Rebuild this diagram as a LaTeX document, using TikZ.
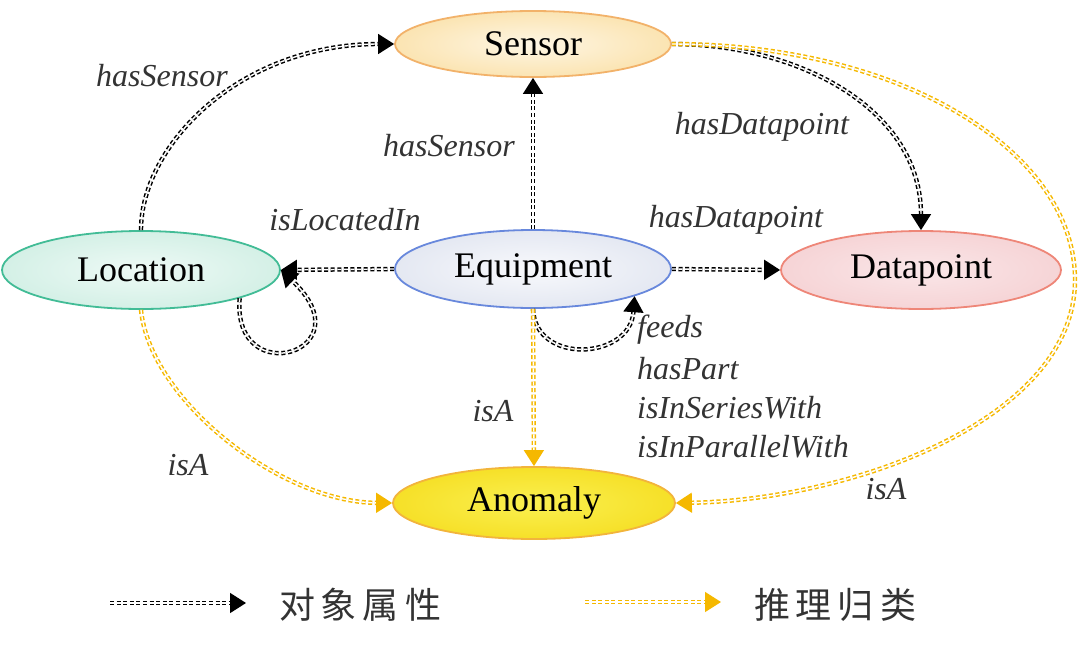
\documentclass[tikz,border=0pt]{standalone}
\usepackage{fontspec}
\setmainfont{Liberation Serif}
\newfontfamily\cjk{Noto Sans CJK SC}
\usetikzlibrary{arrows.meta,shapes.geometric}
\definecolor{yel}{HTML}{F5B800}
\definecolor{lbl}{HTML}{333333}
\begin{document}
\begin{tikzpicture}[x=1pt,y=-1pt,
  ent/.style={ellipse, inner sep=0pt, line width=1.8pt, font=\fontsize{36}{40}\selectfont},
  lab/.style={text=lbl, font=\fontsize{32}{36}\selectfont\itshape, inner sep=0pt},
  objrel/.style={draw=black, line width=1.5pt, double=white, double distance=1.4pt,
     dash pattern=on 4pt off 2.6pt, -{Triangle[length=16pt,width=20pt]}},
  infer/.style={draw=yel, line width=1.5pt, double=white, double distance=1.4pt,
     dash pattern=on 4pt off 2.6pt, -{Triangle[length=16pt,width=20pt,color=yel]}}]
\useasboundingbox (0,0) rectangle (1080,654);
% nodes
\node[ent, minimum width=276pt, minimum height=66pt, draw={rgb,255:red,242;green,178;blue,106},
  inner color={rgb,255:red,254;green,246;blue,228}, outer color={rgb,255:red,251;green,228;blue,178}] (S) at (533,44) {Sensor};
\node[ent, minimum width=278pt, minimum height=78pt, draw={rgb,255:red,66;green,188;blue,150},
  inner color={rgb,255:red,238;green,250;blue,246}, outer color={rgb,255:red,212;green,240;blue,230}] (L) at (141,270) {Location};
\node[ent, minimum width=276pt, minimum height=78pt, draw={rgb,255:red,104;green,136;blue,220},
  inner color={rgb,255:red,248;green,249;blue,252}, outer color={rgb,255:red,228;green,232;blue,242}] (E) at (533,269) {Equipment};
\node[ent, minimum width=280pt, minimum height=78pt, draw={rgb,255:red,238;green,134;blue,120},
  inner color={rgb,255:red,250;green,230;blue,232}, outer color={rgb,255:red,246;green,212;blue,214}] (D) at (921,270) {Datapoint};
\node[ent, minimum width=282pt, minimum height=72pt, draw={rgb,255:red,242;green,180;blue,60},
  inner color={rgb,255:red,250;green,240;blue,80}, outer color={rgb,255:red,246;green,224;blue,40}] (A) at (534,503) {Anomaly};
% object relations
\draw[objrel] (L.north) .. controls (141,145) and (240,44) .. (S.west);
\draw[objrel] (E.north) -- (S.south);
\draw[objrel] (S.east) .. controls (800,44) and (921,110) .. (D.north);
\draw[objrel] (E.west) -- (L.east);
\draw[objrel] (L.-16) .. controls (232,392) and (368,352) .. (L.east);
\draw[objrel] (E.east) -- (D.west);
\draw[objrel] (E.south) .. controls (535,365) and (630,360) .. (E.-15);
% inference
\draw[infer] (E.south) -- (A.north);
\draw[infer] (L.south) .. controls (150,400) and (280,502) .. (A.west);
\coordinate (R) at (1075,280);
\draw[infer] (S.east) .. controls (900,44) and (1075,150) .. (R) .. controls (1075,420) and (850,500) .. (A.east);
% labels
\node[lab] (l1) at (162,76) {hasSensor};
\node[lab] (l2) at (449,146) {hasSensor};
\node[lab] (l3) at (762,127) {hasDatapoint};
\node[lab] (l4) at (345,220) {isLocatedIn};
\node[lab] (l5) at (736,220) {hasDatapoint};
\node[lab, anchor=west] (l6) at (637,330) {feeds};
\node[lab, anchor=west] (l7) at (637,369) {hasPart};
\node[lab, anchor=west] (l8) at (637,408) {isInSeriesWith};
\node[lab, anchor=west] (l9) at (637,447) {isInParallelWith};
\node[lab] (l10) at (493,411) {isA};
\node[lab] (l11) at (188,465) {isA};
\node[lab] (l12) at (886,489) {isA};
% legend
\coordinate (k1a) at (110,603);
\coordinate (k1b) at (246,603);
\coordinate (k2a) at (585,602);
\coordinate (k2b) at (721,602);
\draw[objrel] (k1a) -- (k1b);
\draw[infer] (k2a) -- (k2b);
\node[font=\cjk\fontsize{36}{40}\selectfont, text=lbl] (t1) at (360,605) {对\,象\,属\,性};
\node[font=\cjk\fontsize{36}{40}\selectfont, text=lbl] (t2) at (835,605) {推\,理\,归\,类};
\end{tikzpicture}
\end{document}
